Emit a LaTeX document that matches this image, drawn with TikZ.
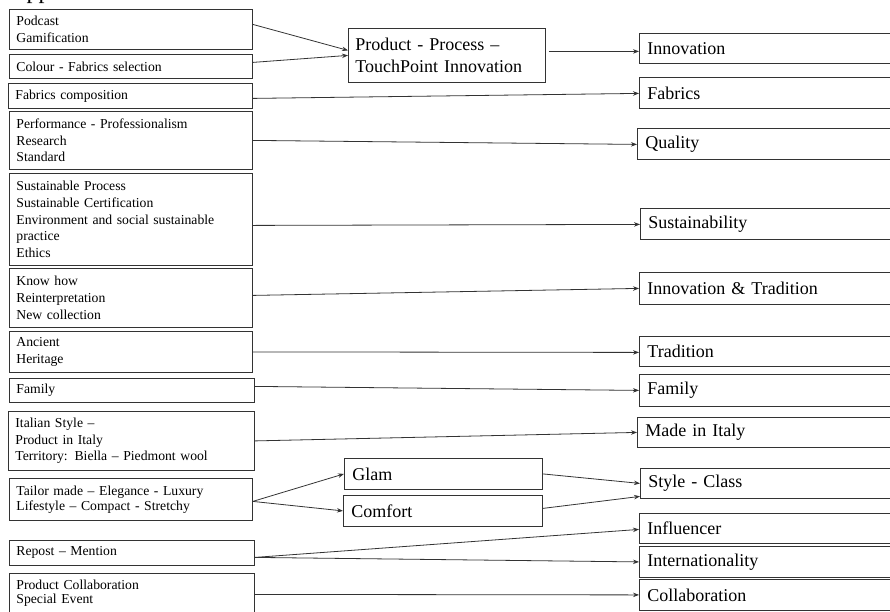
\documentclass[tikz,border=0pt]{standalone}
\usepackage{fontspec}
\setmainfont{Liberation Serif}
\usetikzlibrary{calc,arrows.meta}
\tikzset{
  base/.style={draw=black!80, line width=0.8pt, anchor=north west, align=left, inner ysep=2pt},
  lbox/.style={base, inner xsep=7pt, font=\fontsize{13.7}{16.7}\selectfont},
  rbox/.style={base, inner xsep=8pt, font=\fontsize{18}{22}\selectfont},
  conn/.style={draw=black!80, line width=0.8pt, -{Stealth[length=6pt,width=4.5pt]}}
}
\begin{document}
\begin{tikzpicture}[x=1pt,y=-1pt]
\useasboundingbox (0,0) rectangle (890,611);
\clip (0,0) rectangle (890,611);
% clipped heading fragment
\node[anchor=base west, inner sep=0pt, font=\fontsize{24}{24}\selectfont] (hdr) at (9,-2) {Appendix};
% left boxes
\node[lbox, text width=229pt, minimum height=40pt] (b1) at (9,9) {Podcast\\Gamification};
\node[lbox, text width=229pt, minimum height=24pt] (b2) at (9,54) {Colour - Fabrics selection};
\node[lbox, text width=230pt, minimum height=25pt] (b3) at (8,83) {Fabrics composition};
\node[lbox, text width=229pt, minimum height=58pt] (b4) at (9,111) {Performance - Professionalism\\Research\\Standard};
\node[lbox, text width=229pt, minimum height=92pt] (b5) at (9,173) {Sustainable Process\\Sustainable Certification\\Environment and social sustainable\\practice\\Ethics};
\node[lbox, text width=229pt, minimum height=59pt] (b6) at (9,268) {Know how\\Reinterpretation\\New collection};
\node[lbox, text width=229pt, minimum height=41pt] (b7) at (9,331) {Ancient\\Heritage};
\node[lbox, text width=231pt, minimum height=24pt] (b8) at (9,378) {Family};
\node[lbox, text width=232pt, minimum height=59pt] (b9) at (8,411) {Italian Style --\\Product in Italy\\Territory: Biella -- Piedmont wool};
\node[lbox, text width=229pt, minimum height=42pt, font=\fontsize{13.7}{15}\selectfont] (b10) at (9,478) {Tailor made -- Elegance - Luxury\\Lifestyle -- Compact - Stretchy};
\node[lbox, text width=231pt, minimum height=25pt] (b11) at (9,540) {Repost -- Mention};
\node[lbox, text width=231pt, minimum height=40pt, font=\fontsize{13.7}{14}\selectfont] (b12) at (9,573) {Product Collaboration\\Special Event};
% middle boxes
\node[rbox, inner xsep=7pt, text width=183pt, minimum height=54pt] (m) at (348,28) {Product - Process --\\TouchPoint Innovation};
\node[rbox, text width=182pt, minimum height=31pt] (g) at (344,458) {Glam};
\node[rbox, text width=183pt, minimum height=31pt] (c) at (343,495) {Comfort};
% right boxes
\node[rbox, text width=284pt, minimum height=30pt] (r1) at (639,33) {Innovation};
\node[rbox, text width=284pt, minimum height=31pt] (r2) at (639,77) {Fabrics};
\node[rbox, text width=284pt, minimum height=31pt] (r3) at (637,128) {Quality};
\node[rbox, text width=284pt, minimum height=31pt] (r4) at (640,208) {Sustainability};
\node[rbox, text width=284pt, minimum height=32pt] (r5) at (639,272) {Innovation \& Tradition};
\node[rbox, text width=284pt, minimum height=30pt] (r6) at (639,336) {Tradition};
\node[rbox, text width=284pt, minimum height=32pt] (r7) at (639,374) {Family};
\node[rbox, text width=284pt, minimum height=30pt] (r8) at (637,417) {Made in Italy};
\node[rbox, text width=284pt, minimum height=30pt] (r9) at (640,468) {Style - Class};
\node[rbox, text width=284pt, minimum height=30pt] (r10) at (639,513) {Influencer};
\node[rbox, text width=284pt, minimum height=31pt] (r11) at (639,546) {Internationality};
\node[rbox, text width=284pt, minimum height=31pt] (r12) at (639,579) {Collaboration};
% connectors
\draw[conn] ($(b1.east)+(0,-5)$) -- ($(m.west)+(0,-5)$);
\draw[conn] ($(b2.east)+(0,-4)$) -- (m.west);
\draw[conn] ($(m.east)+(3,-4)$) -- ($(r1.west)+(0,3)$);
\draw[conn] ($(b3.east)+(0,2.5)$) -- ($(r2.west)+(0,0.5)$);
\draw[conn] (b4.east) -- ($(r3.west)+(0,0.5)$);
\draw[conn] ($(b5.east)+(0,6)$) -- ($(r4.west)+(0,0.5)$);
\draw[conn] ($(b6.east)+(0,-2.5)$) -- (r5.west);
\draw[conn] (b7.east) -- ($(r6.west)+(0,1)$);
\draw[conn] ($(b8.east)+(0,-4)$) -- (r7.west);
\draw[conn] (b9.east) -- (r8.west);
\draw[conn] ($(b10.east)+(0,2)$) -- (g.west);
\draw[conn] ($(b10.east)+(0,2)$) -- (c.west);
\draw[conn] (g.east) -- (r9.west);
\draw[conn] ($(c.east)+(0,-2.5)$) -- ($(r9.west)+(0,13)$);
\draw[conn] ($(b11.east)+(0,4.5)$) -- ($(r10.west)+(0,1)$);
\draw[conn] ($(b11.east)+(0,4.5)$) -- (r11.west);
\draw[conn] ($(b12.east)+(0,1)$) -- (r12.west);
\end{tikzpicture}
\end{document}
